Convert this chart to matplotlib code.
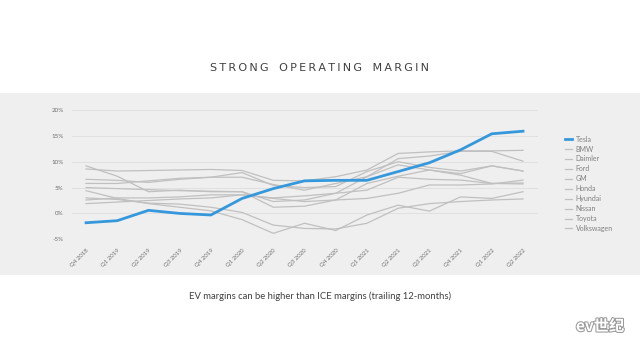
import matplotlib.pyplot as plt
import matplotlib.patheffects as pe

plt.rcParams['font.family'] = ['Lato', 'DejaVu Sans']

quarters = ["Q4 2018", "Q1 2019", "Q2 2019", "Q3 2019", "Q4 2019",
            "Q1 2020", "Q2 2020", "Q3 2020", "Q4 2020", "Q1 2021",
            "Q2 2021", "Q3 2021", "Q4 2021", "Q1 2022", "Q2 2022"]

# operating margin, trailing 12 months, %
tesla = [-1.8, -1.4, 0.6, 0.0, -0.3, 2.9, 4.8, 6.3, 6.4, 6.4, 8.1, 9.8, 12.3, 15.4, 15.9]
bmw = [8.6, 8.2, 8.3, 8.4, 8.5, 8.3, 6.4, 6.3, 7.1, 8.4, 11.6, 11.9, 12.1, 12.1, 12.2]
daimler = [9.2, 7.2, 4.2, 4.5, 4.2, 4.2, 2.3, 2.6, 3.9, 7.1, 10.6, 11.1, 12.0, 12.0, 10.1]
ford = [4.4, 2.9, 1.9, 1.2, 0.5, -1.2, -3.85, -1.9, -3.3, -0.3, 1.6, 0.45, 3.2, 2.9, 4.2]
gm = [6.6, 6.4, 6.0, 6.6, 7.0, 7.9, 5.4, 5.0, 5.2, 8.1, 10.0, 8.9, 8.2, 9.2, 8.2]
honda = [1.9, 2.2, 2.5, 2.8, 3.0, 3.6, 3.0, 3.4, 3.9, 4.5, 7.0, 6.6, 6.45, 5.8, 5.7]
hyundai = [2.6, 3.0, 3.0, 3.2, 3.6, 3.6, 2.9, 2.3, 2.6, 2.9, 3.9, 5.5, 5.5, 5.7, 6.45]
nissan = [3.0, 2.7, 2.0, 1.8, 1.2, 0.2, -2.25, -2.9, -3.0, -1.9, 1.0, 1.9, 2.3, 2.6, 2.8]
toyota = [5.8, 5.8, 6.3, 6.8, 7.0, 7.0, 5.6, 4.5, 5.8, 7.1, 9.4, 8.4, 7.7, 9.2, 8.2]
volkswagen = [5.0, 4.8, 4.6, 4.4, 4.3, 4.2, 1.2, 1.4, 2.6, 5.8, 7.2, 8.4, 7.4, 5.8, 5.9]

others = {"BMW": bmw, "Daimler": daimler, "Ford": ford, "GM": gm, "Honda": honda,
          "Hyundai": hyundai, "Nissan": nissan, "Toyota": toyota, "Volkswagen": volkswagen}

yticks = [-5, 0, 5, 10, 15, 20]

fig = plt.figure(figsize=(6.4, 3.52), dpi=100)
fig.patch.set_facecolor("white")

# grey band behind the chart
bg = fig.add_axes([0, 1 - 275 / 352, 1, (275 - 93) / 352], zorder=-1)
bg.set_facecolor("#efefef")
bg.set_xticks([])
bg.set_yticks([])
for s in bg.spines.values():
    s.set_visible(False)

ax = fig.add_axes([72 / 640, 1 - 239.3 / 352, (538 - 72) / 640, (239.3 - 110) / 352])
ax.set_facecolor("none")

x = list(range(len(quarters)))
ax.plot(x, tesla, color="#3598dc", linewidth=2.0, label="Tesla", zorder=5)
for name, vals in others.items():
    ax.plot(x, vals, color="#c0c0c0", linewidth=0.9, label=name, zorder=3)

ax.set_xlim(-0.45, 14.48)
ax.set_ylim(-5, 20)
ax.set_yticks(yticks)
ax.set_yticklabels([f"{v}%" for v in yticks], fontsize=4.5, color="#707070")
ax.set_xticks(x)
ax.set_xticklabels(quarters, rotation=45, ha="right", rotation_mode="anchor",
                   fontsize=4.3, color="#707070")
ax.tick_params(length=0, pad=6)
ax.grid(axis="y", color="#e0e0e0", linewidth=0.7)
for s in ax.spines.values():
    s.set_visible(False)

ax.legend(loc="upper left", bbox_to_anchor=(1.045, 0.85), frameon=False,
          fontsize=5, labelcolor="#808080", handlelength=1.0,
          handletextpad=0.5, labelspacing=0.42)

title = "\u2009".join("STRONG OPERATING MARGIN").replace("\u2009 \u2009", "   ")
fig.text(0.5, 1 - 68 / 352, title, ha="center", va="center", fontsize=8,
         color="#404040", family=["DejaVu Sans"])
fig.text(0.5, 1 - 296 / 352, "EV margins can be higher than ICE margins (trailing 12-months)",
         ha="center", va="center", fontsize=6.8, color="#404040")
fig.text(600 / 640, 1 - 326 / 352, "ev世纪", ha="center", va="center", fontsize=11,
         style="italic", fontweight="bold", color="white",
         family=["Noto Sans CJK SC", "DejaVu Sans"],
         path_effects=[pe.withStroke(linewidth=1.5, foreground="#9a9a9a")])

fig.savefig("out.png", dpi=100)
